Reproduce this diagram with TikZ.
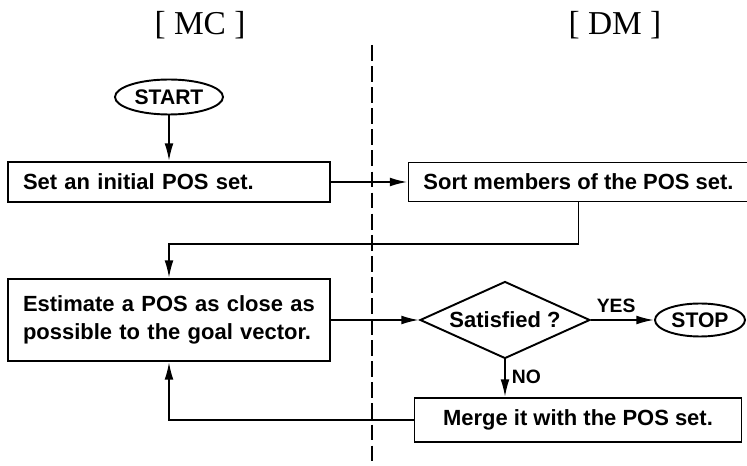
\documentclass[tikz,border=0pt]{standalone}
\usepackage{fontspec}
\setmainfont{Liberation Serif}
\setsansfont{Liberation Sans}
\usetikzlibrary{arrows.meta, shapes.geometric, positioning}

\begin{document}
\begin{tikzpicture}[
        box/.style={draw, line width=1.1pt, rectangle, inner xsep=0.3cm,
            font=\sffamily\bfseries\fontsize{12.5}{16}\selectfont},
        oval/.style={draw, line width=1.1pt, ellipse, inner sep=0pt,
            font=\sffamily\bfseries\fontsize{12}{14}\selectfont},
        flow/.style={line width=1.1pt, -{Latex[length=10pt, width=5pt]}},
        answer/.style={font=\sffamily\bfseries\fontsize{11}{13}\selectfont},
        title/.style={font=\fontsize{19}{21}\selectfont}
    ]
            \useasboundingbox (0,0) rectangle (14.94,9.32);
            \node[title] (mc) at (4.0,8.82) {[ MC ]};
            \node[title] (dm) at (12.3,8.82) {[ DM ]};
            \draw[line width=1.7pt, dash pattern=on 9pt off 3pt] (7.44,8.42) -- (7.44,0);
            \node[oval, minimum width=2.16cm, minimum height=0.7cm] (start) at (3.38,7.38) {START};
            \node[box, text width=5.84cm, minimum height=0.8cm, align=left] (init) at (3.38,5.68) {Set an initial POS set.};
            \node[box, minimum width=6.54cm, minimum height=0.78cm] (sort) at (11.57,5.68) {Sort members of the POS set.};
            \node[box, text width=5.84cm, minimum height=1.64cm, align=left] (estimate) at (3.38,2.92) {Estimate a POS as close as\\possible to the goal vector.};
            \node[diamond, draw, line width=1.1pt, shape aspect=2.3, inner sep=0pt,
                minimum width=3.4cm, minimum height=1.54cm,
                font=\sffamily\bfseries\fontsize{12.5}{14}\selectfont] (satisfied) at (10.10,2.92) {Satisfied ?};
            \node[oval, minimum width=1.8cm, minimum height=0.66cm] (stop) at (14.0,2.92) {STOP};
            \node[box, minimum width=6.54cm, minimum height=0.88cm] (merge) at (11.56,0.92) {Merge it with the POS set.};
            \draw[flow] (start.south) -- (init.north);
            \draw[flow] (init.east) -- (sort.west);
            \draw[flow] (sort.south) -- ++(0,-0.84) -| (estimate.north);
            \draw[flow] (estimate.east) -- (satisfied.west);
            \draw[flow] (satisfied.east) -- node[answer, above, pos=0.4]{YES} (stop.west);
            \draw[flow] (satisfied.south) -- node[answer, right, pos=0.45]{NO} (satisfied.south |- merge.north);
            \draw[flow] (merge.west) -| (estimate.south);
        \end{tikzpicture}
\end{document}
